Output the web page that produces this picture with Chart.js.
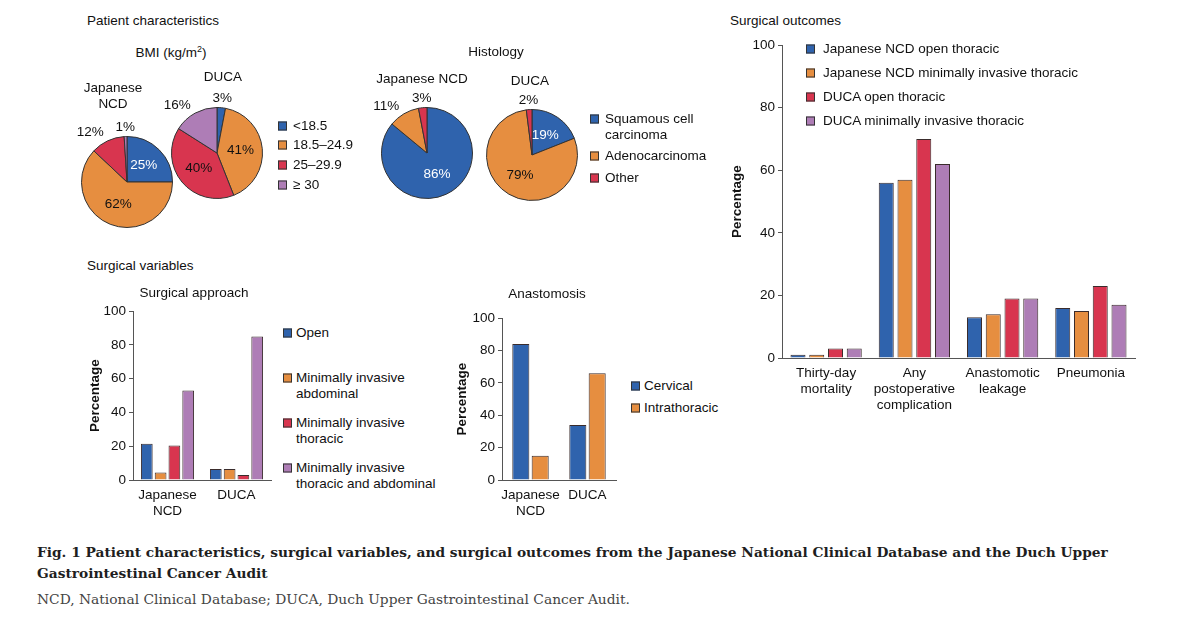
<!DOCTYPE html>
<html>
<head>
<meta charset="utf-8">
<script src="https://cdn.jsdelivr.net/npm/chart.js@4.4.1/dist/chart.umd.min.js"></script>
<style>
  body { margin: 0; background: #fff; }
  #page { position: relative; width: 1200px; height: 625px; overflow: hidden;
          font-family: "Liberation Sans", Arial, sans-serif; font-size: 13.5px; color: #111; }
  canvas { position: absolute; }
  .t { position: absolute; white-space: nowrap; line-height: 16px; }
  .c { transform: translate(-50%, -50%); text-align: center; }
  .l { transform: translate(0, -50%); }
  .sq { position: absolute; width: 7px; height: 7px; border: 1px solid #333; transform: translate(0, -50%); }
  .cap { position: absolute; left: 37px; white-space: nowrap; font-family: "DejaVu Serif", serif; }
</style>
</head>
<body>
<div id="page">
  <canvas id="bmiNcd" width="150" height="150"></canvas>
  <canvas id="bmiDuca" width="150" height="150"></canvas>
  <canvas id="histNcd" width="150" height="150"></canvas>
  <canvas id="histDuca" width="150" height="150"></canvas>
  <canvas id="approach"></canvas>
  <canvas id="anastomosis"></canvas>
  <canvas id="outcomes"></canvas>
</div>
<script>
// ---- data ----
const colors = ['#2f63ad', '#e68e40', '#d8354f', '#ae7db6'];
const yTicks = [0, 20, 40, 60, 80, 100];
const cohorts = [['Japanese', 'NCD'], 'DUCA'];

const bmiCats = ['<18.5', '18.5\u201324.9', '25\u201329.9', '\u2265 30'];
const bmiNCD = [25, 62, 12, 1];
const bmiDUCA = [3, 41, 40, 16];

const histCats = [['Squamous cell', 'carcinoma'], 'Adenocarcinoma', 'Other'];
const histNCD = [86, 11, 3];
const histDUCA = [19, 79, 2];

const approachCats = ['Open', ['Minimally invasive', 'abdominal'], ['Minimally invasive', 'thoracic'],
                      ['Minimally invasive', 'thoracic and abdominal']];
const approachNCD = [21.5, 4.5, 20.5, 53];
const approachDUCA = [6.5, 6.5, 3, 85];

const anaCats = ['Cervical', 'Intrathoracic'];
const anaNCD = [84, 15];
const anaDUCA = [34, 66];

const outcomeCats = [['Thirty-day', 'mortality'], ['Any', 'postoperative', 'complication'],
                     ['Anastomotic', 'leakage'], 'Pneumonia'];
const outcomeSeries = ['Japanese NCD open thoracic', 'Japanese NCD minimally invasive thoracic',
                       'DUCA open thoracic', 'DUCA minimally invasive thoracic'];
const ncdOpen = [1, 56, 13, 16];
const ncdMinInv = [1, 57, 14, 15];
const ducaOpen = [3, 70, 19, 23];
const ducaMinInv = [3, 62, 19, 17];

const FONT = '"Liberation Sans", Arial, sans-serif';
const FS = 13.5;
const page = document.getElementById('page');

// plain text helpers
function put(x, y, html, cls, extra) {
  const d = document.createElement('div');
  d.className = 't ' + cls;
  d.style.left = x + 'px';
  d.style.top = y + 'px';
  if (extra) d.style.cssText += extra;
  d.innerHTML = html;
  page.appendChild(d);
}
function lines(s) { return Array.isArray(s) ? s.join('<br>') : s; }
function legend(x, tx, ys, labels) {
  labels.forEach((lab, i) => {
    const sq = document.createElement('div');
    sq.className = 'sq';
    sq.style.left = x + 'px';
    sq.style.top = ys[i] + 'px';
    sq.style.background = colors[i];
    page.appendChild(sq);
    // first line centred on the square
    put(tx, ys[i] - 8, lines(lab), '', '');
  });
}
function esc(s) { return s.replace('<', '&lt;'); }

// section and panel titles
put(87, 21, 'Patient characteristics', 'l');
put(87, 266, 'Surgical variables', 'l');
put(730, 21, 'Surgical outcomes', 'l');
put(171, 53, 'BMI (kg/m<sup style="font-size:9px;line-height:0">2</sup>)', 'c');
put(496, 52, 'Histology', 'c');
put(113, 96, 'Japanese<br>NCD', 'c');
put(223, 77, 'DUCA', 'c');
put(422, 79, 'Japanese NCD', 'c');
put(530, 81, 'DUCA', 'c');
put(194, 293, 'Surgical approach', 'c');
put(547, 294, 'Anastomosis', 'c');

legend(278, 293, [126, 145, 165, 185], bmiCats.map(esc));
legend(590, 605, [119, 156, 178], histCats);
legend(283, 296, [333, 378, 423, 468], approachCats);
legend(631, 644, [386, 408], anaCats);
legend(806, 823, [49, 73, 97, 121], outcomeSeries);

// caption
const cap1 = document.createElement('div');
cap1.className = 'cap';
cap1.style.cssText = 'top:542px;font-weight:bold;font-size:13.75px;line-height:21px;color:#1e1e1e;';
cap1.innerHTML = 'Fig. 1 Patient characteristics, surgical variables, and surgical outcomes from the Japanese National Clinical Database and the Duch Upper<br>Gastrointestinal Cancer Audit';
page.appendChild(cap1);
const cap2 = document.createElement('div');
cap2.className = 'cap';
cap2.style.cssText = 'top:591px;font-size:13.8px;color:#444;';
cap2.textContent = 'NCD, National Clinical Database; DUCA, Duch Upper Gastrointestinal Cancer Audit.';
page.appendChild(cap2);

// ---- pies ----
const pieLabels = {
  id: 'pieLabels',
  afterDatasetsDraw(chart) {
    const ctx = chart.ctx;
    const data = chart.data.datasets[0].data;
    ctx.save();
    ctx.font = FS + 'px ' + FONT;
    ctx.textBaseline = 'middle';
    chart.getDatasetMeta(0).data.forEach((arc, i) => {
      const v = data[i];
      const a = (arc.startAngle + arc.endAngle) / 2;
      let r;
      ctx.textAlign = 'center';
      if (v >= 19) {
        r = arc.outerRadius * 0.52;
        ctx.fillStyle = i === 0 ? '#fff' : '#111';
      } else {
        r = arc.outerRadius * 1.2;
        if (Math.cos(a) < -0.3) ctx.textAlign = 'right';
        ctx.fillStyle = '#111';
      }
      ctx.fillText(v + '%', arc.x + Math.cos(a) * r, arc.y + Math.sin(a) * r);
    });
    ctx.restore();
  }
};

function makePie(id, cx, cy, cats, values) {
  const el = document.getElementById(id);
  el.style.left = (cx - 75) + 'px';
  el.style.top = (cy - 75) + 'px';
  el.style.width = '150px';
  el.style.height = '150px';
  new Chart(el, {
    type: 'pie',
    data: {
      labels: cats,
      datasets: [{ data: values, backgroundColor: colors.slice(0, values.length),
                   borderColor: '#333', borderWidth: 1 }]
    },
    options: {
      responsive: false, animation: false,
      layout: { padding: 29 },
      plugins: { legend: { display: false }, tooltip: { enabled: false } }
    },
    plugins: [pieLabels]
  });
}

makePie('bmiNcd', 127, 182, bmiCats, bmiNCD);
makePie('bmiDuca', 217, 153, bmiCats, bmiDUCA);
makePie('histNcd', 427, 153, histCats, histNCD);
makePie('histDuca', 532, 155, histCats, histDUCA);

// ---- bar charts ----
// box: left of y-scale, y of 100, y of 0, axis x, axis end
function makeBars(id, box, cats, datasets, catPct, barPct, xH) {
  const el = document.getElementById(id);
  const padTop = 10, padRight = 5;
  const yW = box.axisX - box.left;
  const w = yW + (box.xEnd - box.axisX) + padRight;
  const h = padTop + (box.zero - box.top) + xH;
  el.width = w; el.height = h;
  el.style.left = box.left + 'px';
  el.style.top = (box.top - padTop) + 'px';
  el.style.width = w + 'px';
  el.style.height = h + 'px';
  new Chart(el, {
    type: 'bar',
    data: {
      labels: cats,
      datasets: datasets.map((d, i) => ({
        label: d.label, data: d.data, backgroundColor: colors[i],
        borderColor: '#3a2c2c', borderWidth: 1,
        categoryPercentage: catPct, barPercentage: barPct
      }))
    },
    options: {
      responsive: false, animation: false,
      layout: { padding: { top: padTop, right: padRight, left: 0, bottom: 0 } },
      plugins: { legend: { display: false }, tooltip: { enabled: false } },
      scales: {
        x: {
          grid: { display: false, drawTicks: false },
          border: { display: true, color: '#555', width: 1 },
          ticks: { color: '#111', font: { family: FONT, size: FS }, padding: 7,
                   maxRotation: 0, autoSkip: false },
          afterFit: s => { s.height = xH; }
        },
        y: {
          min: 0, max: 100,
          afterBuildTicks: s => { s.ticks = yTicks.map(v => ({ value: v })); },
          grid: { drawOnChartArea: false, drawTicks: true, tickLength: 4, color: '#555' },
          border: { display: true, color: '#555', width: 1 },
          ticks: { color: '#111', font: { family: FONT, size: FS }, padding: 3 },
          title: { display: true, text: 'Percentage', color: '#111',
                   font: { family: FONT, size: FS, weight: 'bold' }, padding: { top: 2, bottom: 0 } },
          afterFit: s => { s.width = yW; }
        }
      }
    }
  });
}

makeBars('approach', { left: 85, top: 310, zero: 480, axisX: 133, xEnd: 271 }, cohorts,
  approachCats.map((c, i) => ({ label: c, data: [approachNCD[i], approachDUCA[i]] })), 0.8, 0.85, 45);

makeBars('anastomosis', { left: 452, top: 317, zero: 480, axisX: 502, xEnd: 616 }, cohorts,
  anaCats.map((c, i) => ({ label: c, data: [anaNCD[i], anaDUCA[i]] })), 0.68, 0.88, 45);

makeBars('outcomes', { left: 727, top: 44, zero: 358, axisX: 782, xEnd: 1135 }, outcomeCats,
  [ncdOpen, ncdMinInv, ducaOpen, ducaMinInv].map((d, i) => ({ label: outcomeSeries[i], data: d })),
  0.85, 0.8, 60);
</script>
</body>
</html>
